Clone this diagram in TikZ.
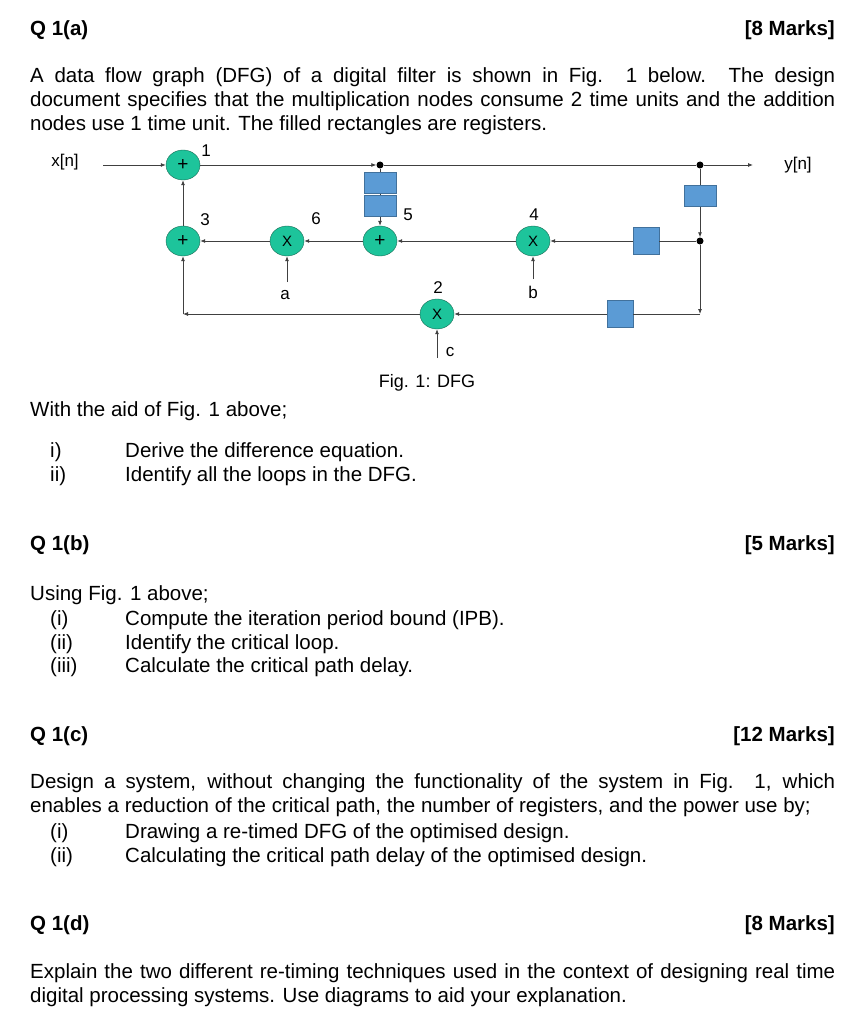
\documentclass[tikz,border=0pt]{standalone}
\usepackage{fontspec}
\setmainfont{Liberation Sans}
\usetikzlibrary{positioning,arrows.meta}
\definecolor{opgreen}{HTML}{1DC49B}
\definecolor{opedge}{HTML}{1B6B55}
\definecolor{regblue}{HTML}{5B9BD5}
\definecolor{regedge}{HTML}{41719C}
\tikzset{
 op/.style={ellipse,draw=opedge,fill=opgreen,minimum width=34pt,minimum height=30pt,inner sep=0pt,font=\fontsize{15}{15}\selectfont},
 reg/.style={draw=regedge,fill=regblue,minimum width=32pt,minimum height=21pt,inner sep=0pt},
 tall/.style={reg,minimum width=26pt,minimum height=27pt},
 dot/.style={circle,fill=black,inner sep=0pt,minimum size=7pt},
 wire/.style={-{Latex[length=5pt,width=4pt]},black!75,line width=0.8pt},
 lbl/.style={font=\fontsize{17}{17}\selectfont},
 body/.style={anchor=west,inner sep=0pt,font=\fontsize{20.5}{24}\selectfont},
 head/.style={body,font=\fontsize{20.5}{24}\selectfont\bfseries},
 para/.style={anchor=north west,inner sep=0pt,text width=805pt,align=justify,font=\fontsize{20.5}{24}\selectfont}
}
\usetikzlibrary{shapes.geometric}
\begin{document}
\begin{tikzpicture}[x=1pt,y=-1pt]
\useasboundingbox (0,0) rectangle (848,1024);

% question (a)
\node[head] (qa) at (30,30) {Q 1(a)};
\node[head,anchor=east] (ma) at (835,30) {[8 Marks]};
\node[para] (pa) at (30,67) {A data flow graph (DFG) of a digital filter is shown in Fig. 1 below. The design\linebreak document specifies that the multiplication nodes consume 2 time units and the addition\linebreak nodes use 1 time unit. The filled rectangles are registers.};

% the DFG
\node[op] (n1) at (183,165) {\fontsize{19}{19}\selectfont +};
\node[op] (n3) at (183,241) {\fontsize{19}{19}\selectfont +};
\node[op] (n6) at (287,241) {X};
\node[op] (n5) at (380,241) {\fontsize{19}{19}\selectfont +};
\node[op] (n4) at (533,241) {X};
\node[op] (n2) at (437,314) {X};
\node[dot] (d1) at (380,165) {};
\node[dot] (d2) at (700,165) {};
\node[dot] (d3) at (700,241) {};
\node[reg] (r1) at (380,183) {};
\node[reg] (r2) at (380,206) {};
\node[reg] (r3) at (700,196) {};
\node[tall] (r4) at (646,241) {};
\node[tall] (r5) at (620,314) {};
\coordinate (br) at (700,314);
\coordinate (bl) at (183,314);
\node[lbl] (xin) at (65,162) {x[n]};
\node[lbl] (yout) at (798,165) {y[n]};
\node[lbl] (ina) at (285,295) {a};
\node[lbl] (inb) at (533,292) {b};
\node[lbl] (inc) at (450,352) {c};
\coordinate (ca) at (287,282);
\coordinate (cb) at (533,279);
\coordinate (cc) at (437,358);
\coordinate (cx) at (103,165);
\coordinate (cy) at (753,165);
\node[lbl] at (206,151) {1};
\node[lbl] at (438,288) {2};
\node[lbl] at (205,220) {3};
\node[lbl] at (534,215) {4};
\node[lbl] at (408,215) {5};
\node[lbl] at (316,219) {6};

\draw[wire] (cx) -- (n1);
\draw[wire] (n1) -- (d1);
\draw[wire] (d1) -- (d2) -- (cy);
\draw[black!75,line width=0.8pt] (d1) -- (r1) (r1) -- (r2);
\draw[wire] (r2) -- (n5);
\draw[black!75,line width=0.8pt] (d2) -- (r3);
\draw[wire] (r3) -- (d3);
\draw[black!75,line width=0.8pt] (d3) -- (r4);
\draw[wire] (r4) -- (n4);
\draw[wire] (n4) -- (n5);
\draw[wire] (n5) -- (n6);
\draw[wire] (n6) -- (n3);
\draw[wire] (n3) -- (n1);
\draw[wire] (d3) -- (br);
\draw[black!75,line width=0.8pt] (br) -- (r5);
\draw[wire] (r5) -- (n2);
\draw[wire] (n2) -- (bl);
\draw[wire] (bl) -- (n3);
\draw[wire] (ca) -- (n6);
\draw[wire] (cb) -- (n4);
\draw[wire] (cc) -- (n2);
\node[lbl,font=\fontsize{18}{18}\selectfont] (cap) at (427,383) {Fig. 1: DFG};

\node[body] (wa) at (30,411) {With the aid of Fig. 1 above;};
\node[body] (ia) at (50,452) {i)};
\node[body] (ta) at (125,452) {Derive the difference equation.};
\node[body] (ib) at (50,476) {ii)};
\node[body] (tb) at (125,476) {Identify all the loops in the DFG.};

% question (b)
\node[head] (qb) at (30,545) {Q 1(b)};
\node[head,anchor=east] (mb) at (835,545) {[5 Marks]};
\node[body] (ub) at (30,595) {Using Fig. 1 above;};
\node[body] at (50,620) {(i)};
\node[body] at (125,620) {Compute the iteration period bound (IPB).};
\node[body] at (50,644) {(ii)};
\node[body] at (125,644) {Identify the critical loop.};
\node[body] at (50,667) {(iii)};
\node[body] at (125,667) {Calculate the critical path delay.};

% question (c)
\node[head] (qc) at (30,736) {Q 1(c)};
\node[head,anchor=east] (mc) at (835,736) {[12 Marks]};
\node[para] (pc) at (30,773) {Design a system, without changing the functionality of the system in Fig. 1, which\linebreak enables a reduction of the critical path, the number of registers, and the power use by;};
\node[body] at (50,833) {(i)};
\node[body] at (125,833) {Drawing a re-timed DFG of the optimised design.};
\node[body] at (50,857) {(ii)};
\node[body] at (125,857) {Calculating the critical path delay of the optimised design.};

% question (d)
\node[head] (qd) at (30,925) {Q 1(d)};
\node[head,anchor=east] (md) at (835,925) {[8 Marks]};
\node[para] (pd) at (30,963) {Explain the two different re-timing techniques used in the context of designing real time digital processing systems. Use diagrams to aid your explanation.};
\end{tikzpicture}
\end{document}
